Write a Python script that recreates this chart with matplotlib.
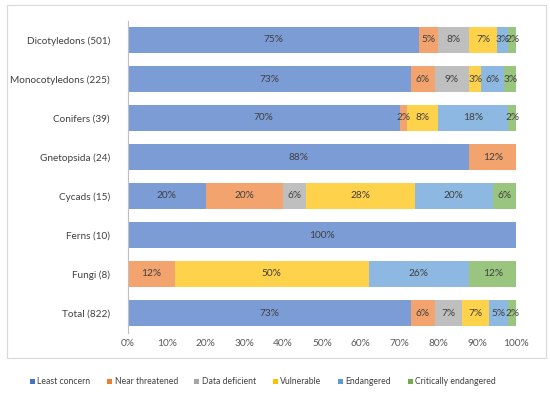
import matplotlib
matplotlib.use("Agg")
import matplotlib.pyplot as plt
from matplotlib.patches import Rectangle, Patch
import numpy as np

plt.rcParams["font.family"] = ["Lato", "DejaVu Sans"]

groups = ["Dicotyledons (501)", "Monocotyledons (225)", "Conifers (39)", "Gnetopsida (24)",
          "Cycads (15)", "Ferns (10)", "Fungi (8)", "Total (822)"]
statuses = ["Least concern", "Near threatened", "Data deficient", "Vulnerable",
            "Endangered", "Critically endangered"]
least_concern = [75, 73, 70, 88, 20, 100, 0, 73]
near_threatened = [5, 6, 2, 12, 20, 0, 12, 6]
data_deficient = [8, 9, 0, 0, 6, 0, 0, 7]
vulnerable = [7, 3, 8, 0, 28, 0, 50, 7]
endangered = [3, 6, 18, 0, 20, 0, 26, 5]
critically = [2, 3, 2, 0, 6, 0, 12, 2]
series = [least_concern, near_threatened, data_deficient, vulnerable, endangered, critically]
colors = ["#4472C4", "#ED7D31", "#A5A5A5", "#FFC000", "#5B9BD5", "#70AD47"]

fig = plt.figure(figsize=(5.5, 3.96), dpi=100)
# outer chart frame
fig.patches.append(Rectangle((7 / 550, 1 - 358 / 396), 539 / 550, 353 / 396,
                             transform=fig.transFigure, fill=False,
                             edgecolor="#d9d9d9", linewidth=0.8))
ax = fig.add_axes([128 / 550, 1 - 332.5 / 396, 388 / 550, 312 / 396])

y = np.arange(len(groups))
left = np.zeros(len(groups))
for vals, col in zip(series, colors):
    vals = np.array(vals, dtype=float)
    bars = ax.barh(y, vals, left=left, height=0.67, color=col, alpha=0.7, linewidth=0)
    for b, v in zip(bars, vals):
        if v > 0:
            ax.text(b.get_x() + b.get_width() / 2, b.get_y() + b.get_height() / 2,
                    f"{v:.0f}%", ha="center", va="center", fontsize=7.3, color="#404040")
    left += vals

ax.set_ylim(len(groups) - 0.5, -0.5)
ax.set_xlim(0, 100)
ax.set_yticks(y)
ax.set_yticklabels(groups, fontsize=7.2, color="#404040")
ax.set_xticks(np.arange(0, 101, 10))
ax.set_xticklabels([f"{t}%" for t in range(0, 101, 10)], fontsize=7.3, color="#595959")
ax.tick_params(axis="y", length=0, pad=13)
ax.tick_params(axis="x", length=0, pad=5)
for s in ["top", "right", "bottom"]:
    ax.spines[s].set_visible(False)
ax.spines["left"].set_color("#bfbfbf")
ax.spines["left"].set_linewidth(0.8)

handles = [Patch(facecolor=c, edgecolor="none") for c in colors]
fig.legend(handles, statuses, loc="center", bbox_to_anchor=(0.478, 1 - 382 / 396), ncol=6,
           frameon=False, fontsize=6.2, handlelength=0.6, handleheight=0.6,
           handletextpad=0.3, columnspacing=1.9, labelcolor="#404040")

fig.savefig("out.png", dpi=100)
